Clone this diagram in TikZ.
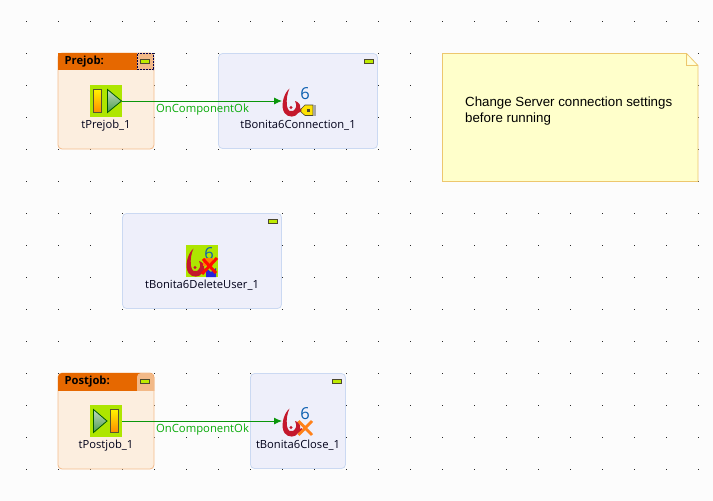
\documentclass[tikz,border=0pt]{standalone}
\usepackage{fontspec}
\setmainfont{Open Sans}
\newfontfamily\notefont{Liberation Sans}
\usetikzlibrary{arrows.meta}
\definecolor{bgc}{HTML}{FCFCFC}
\definecolor{jobfill}{HTML}{FCEEDF}
\definecolor{jobline}{HTML}{F4BC8C}
\definecolor{jobhead}{HTML}{E66800}
\definecolor{jobbtn}{HTML}{F2B988}
\definecolor{compfill}{HTML}{EEEFFA}
\definecolor{compline}{HTML}{CBD9F2}
\definecolor{iconbg}{HTML}{AEE600}
\definecolor{notefill}{HTML}{FFFFCB}
\definecolor{noteline}{HTML}{EDC76E}
\definecolor{linkc}{HTML}{0A960A}
\definecolor{swirl}{HTML}{C4182C}
\definecolor{sixc}{HTML}{0B5FB0}
\tikzset{
  x=1pt,y=-1pt,
  comp/.style={draw=compline,fill=compfill,line width=.8pt,rounded corners=4pt},
  jobbox/.style={draw=jobline,fill=jobfill,line width=.8pt,rounded corners=4pt},
  iconnode/.style={minimum size=32pt,inner sep=0pt,outer sep=0pt,line width=0pt},
  lbl/.style={font=\fontsize{11.2}{12}\selectfont,inner sep=0pt,text=black!90!blue},
  head/.style={font=\bfseries\fontsize{11.2}{12}\selectfont,inner sep=0pt,anchor=west},
  link/.style={draw=linkc,line width=.9pt,-{Latex[length=8pt,width=7pt]}},
  linklabel/.style={font=\fontsize{11.3}{12}\selectfont,text=linkc!80!green,inner sep=0pt},
  minibtn/.style={draw=black!60!olive,fill=iconbg!80!yellow,line width=.8pt},
}
\newcommand{\minimize}[2]{\draw[minibtn] (#1,#2) rectangle ++(9,4);}
% #1,#2 = icon top-left
\newcommand{\swirlicon}[2]{
  \begin{scope}[shift={(#1,#2)}]
    \fill[swirl] (7.5,3.5) .. controls (1,9) and (-1.5,22) .. (2.5,28)
      .. controls (6,33) and (14,32.5) .. (16,28)
      -- (20,26) -- (20,23) -- (18,24)
      .. controls (19,20) and (17,17) .. (13,16)
      .. controls (15,20) and (14.5,24) .. (11,26)
      .. controls (8.5,27) and (5.8,26) .. (5,21)
      .. controls (4,14) and (5.5,8) .. (7.5,3.5) -- cycle;
    \fill[swirl] (9,22.5) circle (1.6);
    \node[font=\fontsize{16.5}{16}\selectfont,text=sixc,inner sep=0pt] at (23,8.5) {6};
  \end{scope}}
\begin{document}
\begin{tikzpicture}
\useasboundingbox (0,0) rectangle (713,501);
\fill[bgc] (0,0) rectangle (713,501);
% grid dots
\foreach \i in {0,...,21}{\foreach \j in {0,...,14}{
  \fill[black!85] ({26+32*\i-.5},{21+32*\j-.5}) rectangle ++(1.1,1.1);
}}
% Prejob box
\draw[jobbox] (58,53) rectangle (154,149);
\fill[jobhead] (58,53) rectangle (154,70);
\fill[jobbtn] (137,53) rectangle (154,70);
\draw[black!70!blue,densely dotted,line width=.5pt] (137.5,53.5) rectangle (153.5,69.5);
\minimize{140.5}{59.5}
\node[head] (prehead) at (64.5,61.5) {Prejob:};
% Connection box
\draw[comp] (218.5,53.5) rectangle (377.5,148.5);
\minimize{364}{59.5}
% Delete box
\draw[comp] (122.5,213.5) rectangle (281.5,308.5);
\minimize{268}{219.5}
% Postjob box
\draw[jobbox] (58,373) rectangle (154,469);
\begin{scope}
\clip (57,372) rectangle (155,390);
\fill[jobhead,rounded corners=4pt] (58,373) rectangle (154,400);
\fill[jobbtn,rounded corners=4pt] (137,373) rectangle (154,400);
\end{scope}
\minimize{140.5}{379.5}
\node[head] (posthead) at (64.5,381.5) {Postjob:};
% Close box
\draw[comp] (250.5,373.5) rectangle (345.5,468.5);
\minimize{332}{379.5}
% Note
\draw[noteline,fill=notefill,line width=.8pt] (442.5,53.5) -- (686.5,53.5) -- (698,65.5) -- (698,181.5) -- (442.5,181.5) -- cycle;
\draw[noteline,line width=.8pt] (686.5,53.5) -- (686.5,65.5) -- (698,65.5);
\fill[notefill!60!white] (687.5,55.5) -- (687.5,64.7) -- (696,64.7) -- cycle;
\node[font=\notefont\fontsize{13.3}{16}\selectfont,align=left,anchor=north west,inner sep=0pt] (note) at (465,96.5) {Change Server connection settings\\before running};
% Icons
\node[iconnode,fill=iconbg] (prejob) at (106,101) {};
\draw[black!50!olive,top color=yellow!90!orange,bottom color=orange!90!yellow,line width=.8pt] (93.5,89.5) rectangle (101.5,112);
\draw[green!35!black,top color=green!25!gray!40!white,bottom color=green!45!black!70,line width=.8pt] (107.5,89.5) -- (121.5,101) -- (107.5,112.5) -- cycle;
\node[iconnode] (conn) at (298,101) {};
\swirlicon{282}{85}
\draw[black!60!olive,fill=yellow!85!orange,line width=.6pt] (301,109) -- (305,105) -- (313,105) -- (313,115.5) -- (305,115.5) -- (301,112) -- cycle;
\fill[gray!70] (312.5,105) rectangle (315.5,115.5);
\fill[black!60!olive] (306.5,108.5) rectangle (309.5,111.5);
\node[iconnode,fill=iconbg] (del) at (202,261) {};
\swirlicon{186}{245}
\fill[orange] (203,258) rectangle (213,266);
\fill[blue!70!gray] (206,268) -- (211,272) -- (216,268) -- (216,277) -- (206,277) -- cycle;
\draw[red!90!orange,line width=3pt] (203,259) -- (216,273) (217,258) -- (202,274);
\node[iconnode,fill=iconbg] (postjob) at (106,421) {};
\draw[green!35!black,top color=green!25!gray!40!white,bottom color=green!45!black!70,line width=.8pt] (93.5,409.5) -- (107,421) -- (93.5,432.5) -- cycle;
\draw[black!50!olive,top color=yellow!90!orange,bottom color=orange!90!yellow,line width=.8pt] (110.5,409.5) rectangle (118.5,432);
\node[iconnode] (close) at (298,421) {};
\swirlicon{282}{405}
\draw[orange!90!red!90!white,line width=2.8pt] (298.5,421) -- (312,435) (312,421) -- (298.5,435);
% Labels
\node[lbl] (l1) at (106,125.5) {tPrejob\_1};
\node[lbl] (l2) at (298,125.5) {tBonita6Connection\_1};
\node[lbl] (l3) at (202,285.5) {tBonita6DeleteUser\_1};
\node[lbl] (l4) at (106,445.5) {tPostjob\_1};
\node[lbl] (l5) at (298,445.5) {tBonita6Close\_1};
% Links
\draw[link] (prejob.east) -- (conn.west);
\draw[link] (postjob.east) -- (close.west);
\node[linklabel] (ok1) at (202.5,109.5) {OnComponentOk};
\node[linklabel] (ok2) at (202.5,429.5) {OnComponentOk};
\end{tikzpicture}
\end{document}
